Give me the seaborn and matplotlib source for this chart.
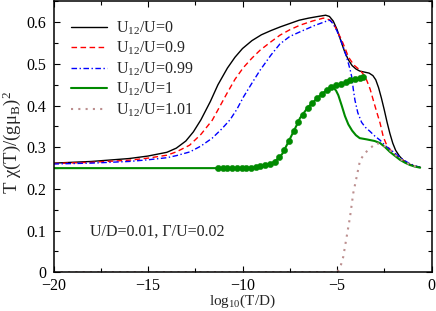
"""T chi(T) vs log10(T/D) for several U12/U values."""

import matplotlib

matplotlib.use("Agg")
import matplotlib.pyplot as plt
import numpy as np
import seaborn as sns
from matplotlib.ticker import MultipleLocator

# U12/U = 0
x_u0 = [-20, -18, -16, -15, -14, -13.5, -13, -12.6, -12.2, -11.7, -11.3, -10.8, -10.4, -10.0,
        -9.5, -9.0, -8.5, -8.0, -7.5, -7.0, -6.5, -6.0, -5.6, -5.4, -5.2, -5.0, -4.8, -4.6,
        -4.4, -4.2, -4.0, -3.8, -3.5, -3.3, -3.1, -2.95, -2.8, -2.65, -2.5, -2.35, -2.2,
        -2.05, -1.9, -1.7, -1.5, -1.3, -1.1, -0.9, -0.6]
y_u0 = [0.262, 0.266, 0.273, 0.279, 0.288, 0.298, 0.315, 0.337, 0.366, 0.410, 0.450, 0.490,
        0.516, 0.537, 0.556, 0.570, 0.580, 0.589, 0.597, 0.605, 0.610, 0.614, 0.617, 0.614,
        0.603, 0.583, 0.556, 0.530, 0.510, 0.496, 0.488, 0.483, 0.480, 0.478, 0.472, 0.462,
        0.443, 0.418, 0.390, 0.360, 0.333, 0.310, 0.293, 0.279, 0.269, 0.262, 0.258, 0.255,
        0.252]

# U12/U = 0.9
x_u09 = [-20, -18, -16, -15, -14, -13.5, -12.8, -12.2, -11.6, -11.2, -10.84, -10.4, -9.96,
         -9.5, -9.07, -8.5, -8.02, -7.5, -6.96, -6.3, -5.72, -5.4, -5.2, -5.0, -4.75, -4.55,
         -4.4, -4.1, -3.78, -3.6, -3.43, -3.25, -3.08, -2.9, -2.72, -2.55, -2.35, -2.02,
         -1.7, -1.4, -1.1, -0.8, -0.6]
y_u09 = [0.261, 0.264, 0.269, 0.274, 0.281, 0.289, 0.305, 0.331, 0.365, 0.398, 0.428, 0.463,
         0.491, 0.514, 0.533, 0.553, 0.569, 0.582, 0.593, 0.603, 0.610, 0.606, 0.598, 0.580,
         0.557, 0.535, 0.517, 0.497, 0.485, 0.475, 0.461, 0.440, 0.413, 0.385, 0.358, 0.325,
         0.303, 0.286, 0.275, 0.265, 0.258, 0.254, 0.252]

# U12/U = 0.99
x_u099 = [-20, -18, -16, -15, -14, -13.5, -12.78, -12.2, -11.6, -11.1, -10.66, -10.3, -9.96,
          -9.5, -9.07, -8.5, -8.02, -7.5, -6.96, -6.2, -5.6, -5.37, -5.2, -5.02, -4.85, -4.67,
          -4.52, -4.4, -4.3, -4.22, -4.14, -4.05, -3.9, -3.7, -3.5, -3.25, -3.0, -2.72, -2.4,
          -2.02, -1.75, -1.49, -1.2, -0.9, -0.6]
y_u099 = [0.260, 0.262, 0.266, 0.270, 0.275, 0.280, 0.289, 0.303, 0.322, 0.344, 0.366, 0.391,
          0.420, 0.454, 0.485, 0.521, 0.548, 0.566, 0.577, 0.592, 0.602, 0.605, 0.596, 0.581,
          0.563, 0.541, 0.520, 0.502, 0.485, 0.469, 0.440, 0.413, 0.383, 0.360, 0.348, 0.338,
          0.327, 0.317, 0.302, 0.289, 0.279, 0.270, 0.262, 0.256, 0.252]

# U12/U = 1 (line)
x_u1 = [-20, -12, -10, -9.5, -9.0, -8.7, -8.4, -8.1, -7.9, -7.66, -7.45, -7.3, -7.1, -6.96,
        -6.7, -6.5, -6.3, -6.05, -5.8, -5.55, -5.35, -5.2, -5.05, -4.93, -4.75, -4.58, -4.4,
        -4.2, -4.0, -3.8, -3.43, -3.0, -2.72, -2.45, -2.2, -1.95, -1.67, -1.4, -1.14, -0.9,
        -0.6]
y_u1 = [0.25, 0.25, 0.25, 0.251, 0.254, 0.258, 0.263, 0.273, 0.284, 0.305, 0.324, 0.338,
        0.356, 0.370, 0.386, 0.398, 0.406, 0.418, 0.428, 0.437, 0.443, 0.444, 0.436, 0.425,
        0.400, 0.375, 0.355, 0.340, 0.329, 0.322, 0.319, 0.315, 0.310, 0.300, 0.289, 0.280,
        0.270, 0.263, 0.2575, 0.254, 0.251]

# U12/U = 1 (symbols)
x_u1_pts = [-11.3, -11.05, -10.8, -10.55, -10.3, -10.05, -9.8, -9.55, -9.3, -9.05, -8.8,
            -8.55, -8.3, -8.05, -7.8, -7.55, -7.3, -7.05, -6.8, -6.55, -6.3, -6.05, -5.8,
            -5.55, -5.3, -5.05, -4.8, -4.55, -4.3, -4.05, -3.8, -3.6]
y_u1_pts = [0.25, 0.25, 0.25, 0.25, 0.25, 0.25, 0.25, 0.251, 0.252, 0.254, 0.257, 0.261,
            0.265, 0.277, 0.293, 0.316, 0.338, 0.360, 0.378, 0.395, 0.406, 0.418, 0.428,
            0.437, 0.444, 0.449, 0.453, 0.457, 0.461, 0.464, 0.467, 0.469]

# U12/U = 1.01
x_u101 = [-20, -5.0, -4.84, -4.67, -4.49, -4.31, -4.14, -3.96, -3.78, -3.52, -3.25, -2.9,
          -2.55, -2.02, -1.67, -1.3, -0.9, -0.6]
y_u101 = [0.0, 0.0, 0.01, 0.037, 0.085, 0.133, 0.190, 0.229, 0.269, 0.286, 0.298, 0.310,
          0.305, 0.286, 0.272, 0.262, 0.255, 0.251]

sns.set_style("ticks")
plt.rcParams["font.family"] = ["Liberation Serif", "DejaVu Serif"]
plt.rcParams["mathtext.default"] = "regular"

fig = plt.figure(figsize=(4.36, 3.11), dpi=100)
ax = fig.add_axes([53.5 / 436, 38.7 / 311, 378 / 436, 270.85 / 311])

sns.lineplot(x=x_u0, y=y_u0, sort=False, color="black", lw=1.0,
             label="U$_{12}$/U=0", ax=ax)
sns.lineplot(x=x_u09, y=y_u09, sort=False, color="red", lw=1.0,
             linestyle=(0, (4, 2.5)), label="U$_{12}$/U=0.9", ax=ax)
sns.lineplot(x=x_u099, y=y_u099, sort=False, color="blue", lw=1.0,
             linestyle=(0, (4, 1.8, 1, 1.8)), label="U$_{12}$/U=0.99", ax=ax)
sns.lineplot(x=x_u1, y=y_u1, sort=False, color="#008a00", lw=1.5,
             label="U$_{12}$/U=1", ax=ax)
sns.scatterplot(x=x_u1_pts, y=y_u1_pts, color="#008a00", edgecolor="#008a00",
                s=20, legend=False, ax=ax, zorder=3)
sns.lineplot(x=x_u101, y=y_u101, sort=False, color="#bc8f8f", lw=1.5,
             linestyle=(0, (1, 2.5)), label="U$_{12}$/U=1.01", ax=ax)

ax.set_xlim(-20, 0)
ax.set_ylim(0, 0.65)
ax.xaxis.set_major_locator(MultipleLocator(5))
ax.xaxis.set_minor_locator(MultipleLocator(2.5))
ax.yaxis.set_major_locator(MultipleLocator(0.1))
ax.yaxis.set_minor_locator(MultipleLocator(0.05))
ax.set_yticks(np.arange(0, 0.61, 0.1), ["0", "0.1", "0.2", "0.3", "0.4", "0.5", "0.6"])
ax.tick_params(which="both", direction="in", top=True, right=True, labelsize=11.5,
               width=0.8, colors="black")
ax.tick_params(axis="x", pad=4)
ax.tick_params(axis="y", pad=5)
ax.tick_params(which="major", length=4.3)
ax.tick_params(which="minor", length=2.8)
for sp in ax.spines.values():
    sp.set_linewidth(1.1)
    sp.set_color("black")

ax.set_xlabel("log$_{10}$(T/D)", fontsize=11, labelpad=-1)
ax.set_ylabel("T χ(T)/(gμ$_B$)$^2$", fontsize=13.5)
ax.yaxis.set_label_coords(-0.08, 0.48)
ax.text(-18.07, 0.097, "U/D=0.01, Γ/U=0.02", fontsize=11.5, va="center", ha="left")

ax.legend(loc="upper left", bbox_to_anchor=(0.02, 0.97), frameon=False, fontsize=11.5,
          handlelength=2.3, handletextpad=0.55, labelspacing=0.2, borderaxespad=0.2)

fig.savefig("out.png", dpi=100)
